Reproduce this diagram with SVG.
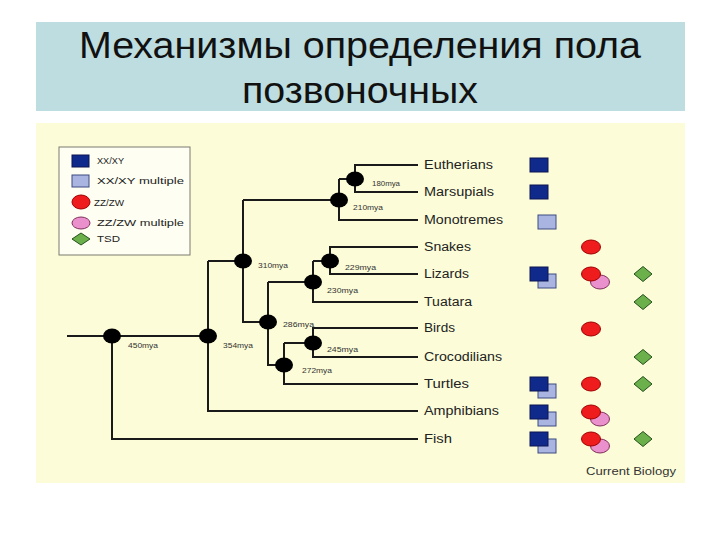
<svg xmlns="http://www.w3.org/2000/svg" width="720" height="540" viewBox="0 0 720 540">
<style>
.title{font-family:"Liberation Sans",Arial,sans-serif;font-size:37px;fill:#111;}
.lbl{font-family:"Liberation Sans",Arial,sans-serif;font-size:12px;fill:#222;}
.mya{font-family:"Liberation Sans",Arial,sans-serif;font-size:7px;fill:#333;}
.leg{font-family:"Liberation Sans",Arial,sans-serif;font-size:8.5px;fill:#222;}
.br{fill:none;stroke:#1a1a1a;stroke-width:2;}
.node{fill:#000;}
.dk{fill:#102a8c;stroke:#0a1450;stroke-width:1;}
.lt{fill:#a9b5e0;stroke:#3c4a82;stroke-width:1;}
.rd{fill:#ee1c1c;stroke:#a00000;stroke-width:1;}
.pk{fill:#ea90cc;stroke:#80305c;stroke-width:1;}
.gr{fill:#6cb04c;stroke:#24501c;stroke-width:1;}
</style>
<defs>
<rect id="sqd" class="dk" width="18" height="14"/>
<rect id="sql" class="lt" width="18" height="14"/>
<ellipse id="elr" class="rd" rx="9.5" ry="7"/>
<ellipse id="elp" class="pk" rx="9.5" ry="7"/>
<polygon id="dia" class="gr" points="0,-7.5 9,0 0,7.5 -9,0"/>
</defs>
<rect width="720" height="540" fill="#ffffff"/>
<g id="title">
<rect x="36" y="22" width="649" height="89" fill="#bddde0"/>
<text class="title" x="360" y="58" text-anchor="middle" textLength="562" lengthAdjust="spacingAndGlyphs">Механизмы определения пола</text>
<text class="title" x="360" y="103" text-anchor="middle" textLength="236" lengthAdjust="spacingAndGlyphs">позвоночных</text>
</g>
<rect x="36" y="123" width="649" height="360" fill="#fcfcd8"/>
<g id="legend">
<rect x="59" y="147" width="131" height="108" fill="#fefef2" stroke="#7a7a70" stroke-width="1"/>
<rect class="dk" x="72" y="155" width="17" height="12"/>
<text class="leg" x="97" y="164" textLength="27" lengthAdjust="spacingAndGlyphs">XX/XY</text>
<rect class="lt" x="72" y="175" width="17" height="12"/>
<text class="leg" x="97" y="184" textLength="87" lengthAdjust="spacingAndGlyphs">XX/XY multiple</text>
<ellipse class="rd" cx="81" cy="202" rx="9" ry="7"/>
<text class="leg" x="94" y="206" textLength="30" lengthAdjust="spacingAndGlyphs">ZZ/ZW</text>
<ellipse class="pk" cx="81" cy="223" rx="9" ry="6"/>
<text class="leg" x="97" y="226" textLength="87" lengthAdjust="spacingAndGlyphs">ZZ/ZW multiple</text>
<polygon class="gr" points="81,233 90,239 81,245 72,239"/>
<text class="leg" x="97" y="242" textLength="23" lengthAdjust="spacingAndGlyphs">TSD</text>
</g>
<g id="connectors">
<path class="br" d="M67,336 H208"/>
<path class="br" d="M112,336 V439 H418"/>
<path class="br" d="M208,261 V411 H418"/>
<path class="br" d="M208,261 H243"/>
<path class="br" d="M243,200 V322 H268"/>
<path class="br" d="M243,200 H339"/>
<path class="br" d="M339,179 V220 H418"/>
<path class="br" d="M339,179 H355"/>
<path class="br" d="M418,165 H355 V192 H418"/>
<path class="br" d="M268,282 V365 H284"/>
<path class="br" d="M268,282 H313"/>
<path class="br" d="M313,261 V302 H418"/>
<path class="br" d="M313,261 H330"/>
<path class="br" d="M418,247 H330 V274 H418"/>
<path class="br" d="M284,343 V384 H418"/>
<path class="br" d="M284,343 H313"/>
<path class="br" d="M418,328 H313 V357 H418"/>
</g>
<g id="nodes">
<g id="n450"><ellipse class="node" cx="112" cy="336" rx="9" ry="7.5"/><text class="mya" x="128" y="348" textLength="30" lengthAdjust="spacingAndGlyphs">450mya</text></g>
<g id="n354"><ellipse class="node" cx="208" cy="336" rx="9" ry="7.5"/><text class="mya" x="223" y="348" textLength="30" lengthAdjust="spacingAndGlyphs">354mya</text></g>
<g id="n310"><ellipse class="node" cx="243" cy="261" rx="9" ry="7.5"/><text class="mya" x="258" y="268" textLength="30" lengthAdjust="spacingAndGlyphs">310mya</text></g>
<g id="n210"><ellipse class="node" cx="339" cy="200" rx="9" ry="7.5"/><text class="mya" x="353" y="210" textLength="30" lengthAdjust="spacingAndGlyphs">210mya</text></g>
<g id="n180"><ellipse class="node" cx="355" cy="179" rx="9" ry="7.5"/><text class="mya" x="372" y="186" textLength="28" lengthAdjust="spacingAndGlyphs">180mya</text></g>
<g id="n286"><ellipse class="node" cx="268" cy="322" rx="9" ry="7.5"/><text class="mya" x="283" y="327" textLength="31" lengthAdjust="spacingAndGlyphs">286mya</text></g>
<g id="n230"><ellipse class="node" cx="313" cy="282" rx="9" ry="7.5"/><text class="mya" x="327" y="293" textLength="31" lengthAdjust="spacingAndGlyphs">230mya</text></g>
<g id="n229"><ellipse class="node" cx="330" cy="261" rx="9" ry="7.5"/><text class="mya" x="345" y="270" textLength="31" lengthAdjust="spacingAndGlyphs">229mya</text></g>
<g id="n272"><ellipse class="node" cx="284" cy="365" rx="9" ry="7.5"/><text class="mya" x="302" y="373" textLength="30" lengthAdjust="spacingAndGlyphs">272mya</text></g>
<g id="n245"><ellipse class="node" cx="313" cy="343" rx="9" ry="7.5"/><text class="mya" x="327" y="352" textLength="31" lengthAdjust="spacingAndGlyphs">245mya</text></g>
</g>
<g id="taxa">
<g id="eutherians"><text class="lbl" x="424" y="169" textLength="69" lengthAdjust="spacingAndGlyphs">Eutherians</text><use href="#sqd" x="530" y="158"/></g>
<g id="marsupials"><text class="lbl" x="424" y="196" textLength="70" lengthAdjust="spacingAndGlyphs">Marsupials</text><use href="#sqd" x="530" y="185"/></g>
<g id="monotremes"><text class="lbl" x="424" y="224" textLength="79" lengthAdjust="spacingAndGlyphs">Monotremes</text><use href="#sql" x="538" y="215"/></g>
<g id="snakes"><text class="lbl" x="424" y="251" textLength="47" lengthAdjust="spacingAndGlyphs">Snakes</text><use href="#elr" x="591" y="247"/></g>
<g id="lizards"><text class="lbl" x="424" y="278" textLength="45" lengthAdjust="spacingAndGlyphs">Lizards</text><use href="#sql" x="538" y="274"/><use href="#sqd" x="530" y="267"/><use href="#elp" x="600" y="282"/><use href="#elr" x="591" y="274"/><use href="#dia" x="643" y="274"/></g>
<g id="tuatara"><text class="lbl" x="424" y="306" textLength="48" lengthAdjust="spacingAndGlyphs">Tuatara</text><use href="#dia" x="643" y="302"/></g>
<g id="birds"><text class="lbl" x="424" y="332" textLength="31" lengthAdjust="spacingAndGlyphs">Birds</text><use href="#elr" x="591" y="329"/></g>
<g id="crocodilians"><text class="lbl" x="424" y="361" textLength="78" lengthAdjust="spacingAndGlyphs">Crocodilians</text><use href="#dia" x="643" y="357"/></g>
<g id="turtles"><text class="lbl" x="424" y="388" textLength="45" lengthAdjust="spacingAndGlyphs">Turtles</text><use href="#sql" x="538" y="384"/><use href="#sqd" x="530" y="377"/><use href="#elr" x="591" y="384"/><use href="#dia" x="643" y="384"/></g>
<g id="amphibians"><text class="lbl" x="424" y="415" textLength="75" lengthAdjust="spacingAndGlyphs">Amphibians</text><use href="#sql" x="538" y="412"/><use href="#sqd" x="530" y="405"/><use href="#elp" x="600" y="419"/><use href="#elr" x="591" y="412"/></g>
<g id="fish"><text class="lbl" x="424" y="443" textLength="28" lengthAdjust="spacingAndGlyphs">Fish</text><use href="#sql" x="538" y="439"/><use href="#sqd" x="530" y="432"/><use href="#elp" x="600" y="446"/><use href="#elr" x="591" y="439"/><use href="#dia" x="643" y="439"/></g>
</g>
<text class="lbl" x="586" y="475" font-size="11" style="font-size:11px;fill:#333" textLength="90" lengthAdjust="spacingAndGlyphs">Current Biology</text>
</svg>
